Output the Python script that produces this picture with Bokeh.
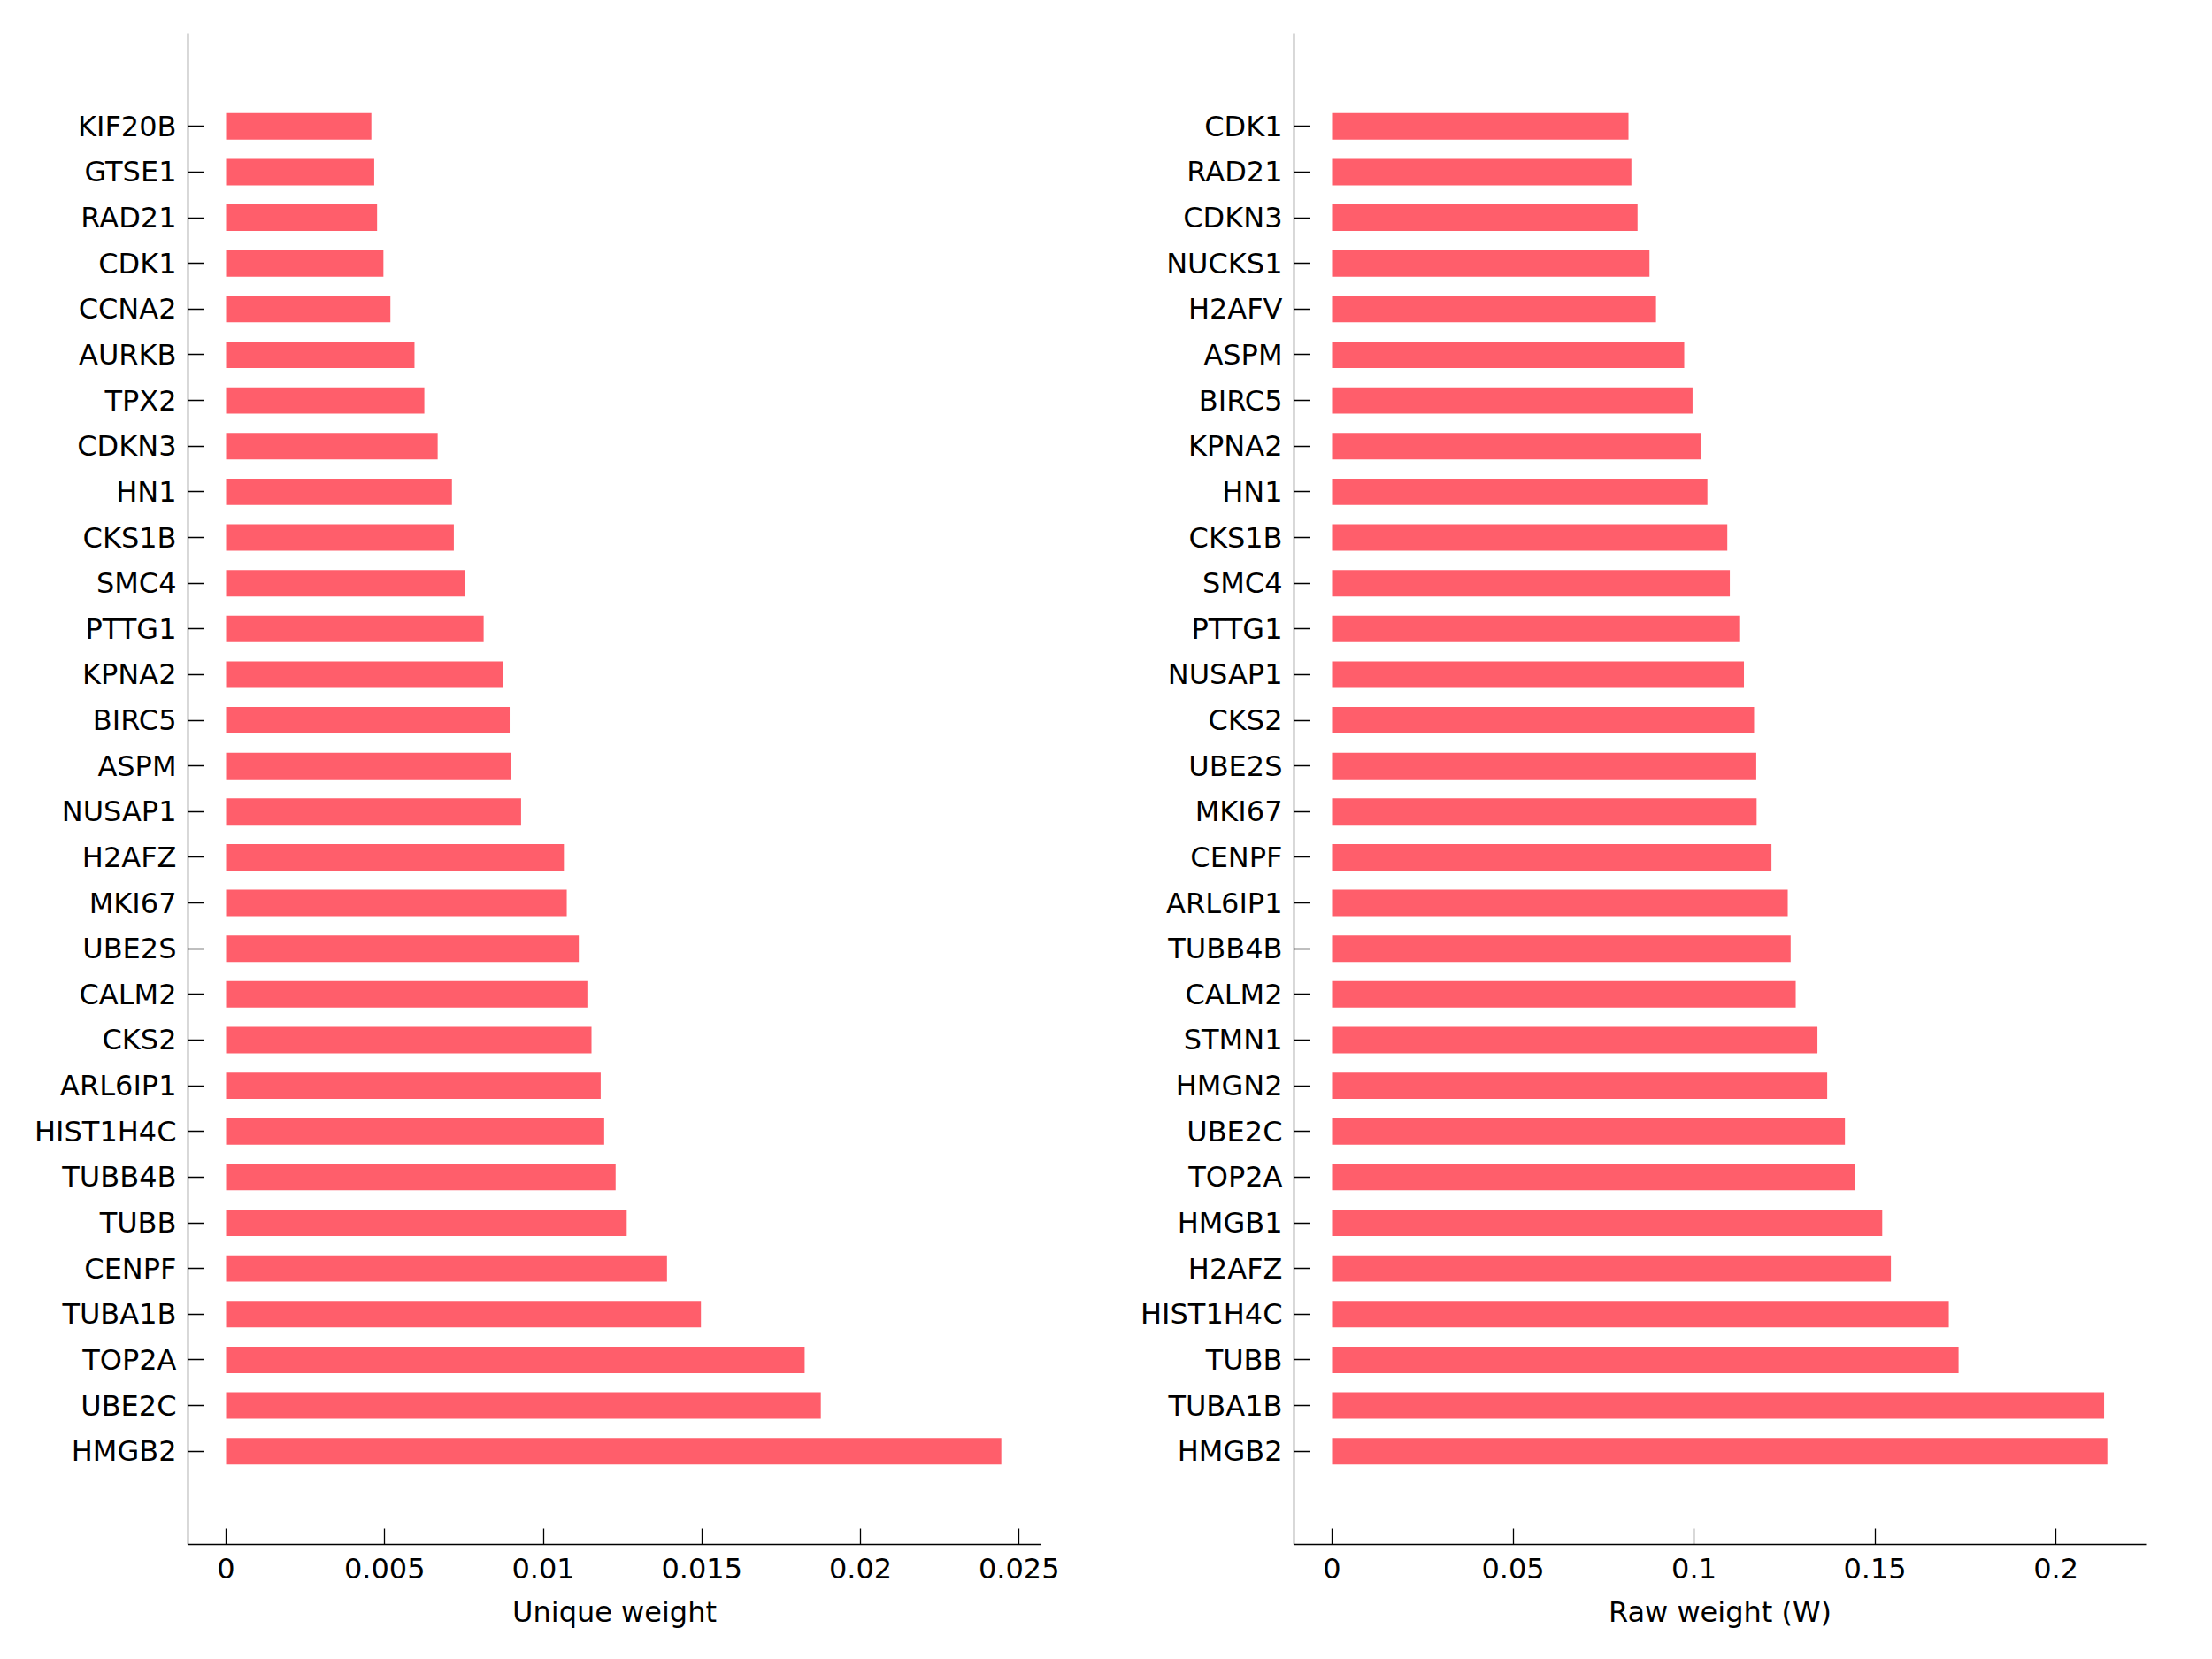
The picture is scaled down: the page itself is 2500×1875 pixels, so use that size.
from bokeh.plotting import figure
from bokeh.layouts import row
from bokeh.models import FactorRange, Range1d, FixedTicker, CustomJSTickFormatter
from bokeh.embed import file_html
from bokeh.resources import INLINE

# ---- data (top to bottom as in the picture) ----
left_genes = ["KIF20B", "GTSE1", "RAD21", "CDK1", "CCNA2", "AURKB", "TPX2", "CDKN3",
              "HN1", "CKS1B", "SMC4", "PTTG1", "KPNA2", "BIRC5", "ASPM", "NUSAP1",
              "H2AFZ", "MKI67", "UBE2S", "CALM2", "CKS2", "ARL6IP1", "HIST1H4C",
              "TUBB4B", "TUBB", "CENPF", "TUBA1B", "TOP2A", "UBE2C", "HMGB2"]
left_values = [0.00458, 0.00467, 0.00476, 0.00496, 0.00518, 0.00594, 0.00625, 0.00667,
               0.00712, 0.00718, 0.00754, 0.00812, 0.00874, 0.00894, 0.00899, 0.00930,
               0.01065, 0.01074, 0.01112, 0.01139, 0.01152, 0.01181, 0.01192,
               0.01228, 0.01263, 0.01390, 0.01497, 0.01824, 0.01875, 0.02444]

right_genes = ["CDK1", "RAD21", "CDKN3", "NUCKS1", "H2AFV", "ASPM", "BIRC5", "KPNA2",
               "HN1", "CKS1B", "SMC4", "PTTG1", "NUSAP1", "CKS2", "UBE2S", "MKI67",
               "CENPF", "ARL6IP1", "TUBB4B", "CALM2", "STMN1", "HMGN2", "UBE2C",
               "TOP2A", "HMGB1", "H2AFZ", "HIST1H4C", "TUBB", "TUBA1B", "HMGB2"]
right_values = [0.0819, 0.0827, 0.0844, 0.0877, 0.0895, 0.0973, 0.0996, 0.1019,
                0.1037, 0.1092, 0.1099, 0.1125, 0.1138, 0.1166, 0.1172, 0.1173,
                0.1214, 0.1259, 0.1267, 0.1281, 0.1341, 0.1368, 0.1417,
                0.1444, 0.1520, 0.1544, 0.1704, 0.1731, 0.2133, 0.2142]

left_xticks = [0, 0.005, 0.01, 0.015, 0.02, 0.025]
left_xlabels = ["0", "0.005", "0.01", "0.015", "0.02", "0.025"]
right_xticks = [0, 0.05, 0.1, 0.15, 0.2]
right_xlabels = ["0", "0.05", "0.1", "0.15", "0.2"]

left_title = "Unique weight"
right_title = "Raw weight (W)"

BAR = "#FF5E6B"
FONT = "DejaVu Sans"
FS = "32px"


def make(genes, values, xticks, xlabels, xlabel, xr, frame_w, border_right):
    factors = list(reversed(genes))
    p = figure(y_range=FactorRange(factors=factors, range_padding=1.54,
                                   range_padding_units="absolute"),
               x_range=Range1d(*xr),
               frame_width=frame_w, frame_height=1708,
               min_border_left=212, min_border_right=border_right,
               min_border_top=37, min_border_bottom=122,
               output_backend="svg", toolbar_location=None)
    p.hbar(y=genes, right=values, left=0, height=0.58, fill_color=BAR, line_color=None)
    p.outline_line_color = None
    p.xgrid.visible = False
    p.ygrid.visible = False
    p.background_fill_color = "white"
    p.border_fill_color = "white"

    xa = p.xaxis[0]
    xa.ticker = FixedTicker(ticks=xticks, minor_ticks=[])
    xa.formatter = CustomJSTickFormatter(args=dict(vals=xticks, labs=xlabels), code="""
        const i = vals.findIndex(v => Math.abs(v - tick) < 1e-9);
        return i >= 0 ? labs[i] : '';
    """)
    xa.axis_label = xlabel
    xa.axis_label_text_font = FONT
    xa.axis_label_text_font_size = FS
    xa.axis_label_text_font_style = "normal"
    xa.axis_label_text_color = "black"
    xa.axis_label_standoff = 16
    xa.major_label_standoff = 15

    ya = p.yaxis[0]
    ya.major_label_standoff = 13

    for ax in (xa, ya):
        ax.major_tick_in = 18
        ax.major_tick_out = 0
        ax.minor_tick_in = 0
        ax.minor_tick_out = 0
        ax.axis_line_color = "black"
        ax.axis_line_width = 1.3
        ax.major_tick_line_color = "black"
        ax.major_tick_line_width = 1.3
        ax.major_label_text_font = FONT
        ax.major_label_text_font_size = FS
        ax.major_label_text_color = "black"
    return p


p1 = make(left_genes, left_values, left_xticks, left_xlabels, left_title,
          (-0.0012, 0.02569), 964, 74)
p2 = make(right_genes, right_values, right_xticks, right_xlabels, right_title,
          (-0.01051, 0.2249), 963, 73)

layout = row(p1, p2)
open("out.html", "w").write(file_html(layout, INLINE))
